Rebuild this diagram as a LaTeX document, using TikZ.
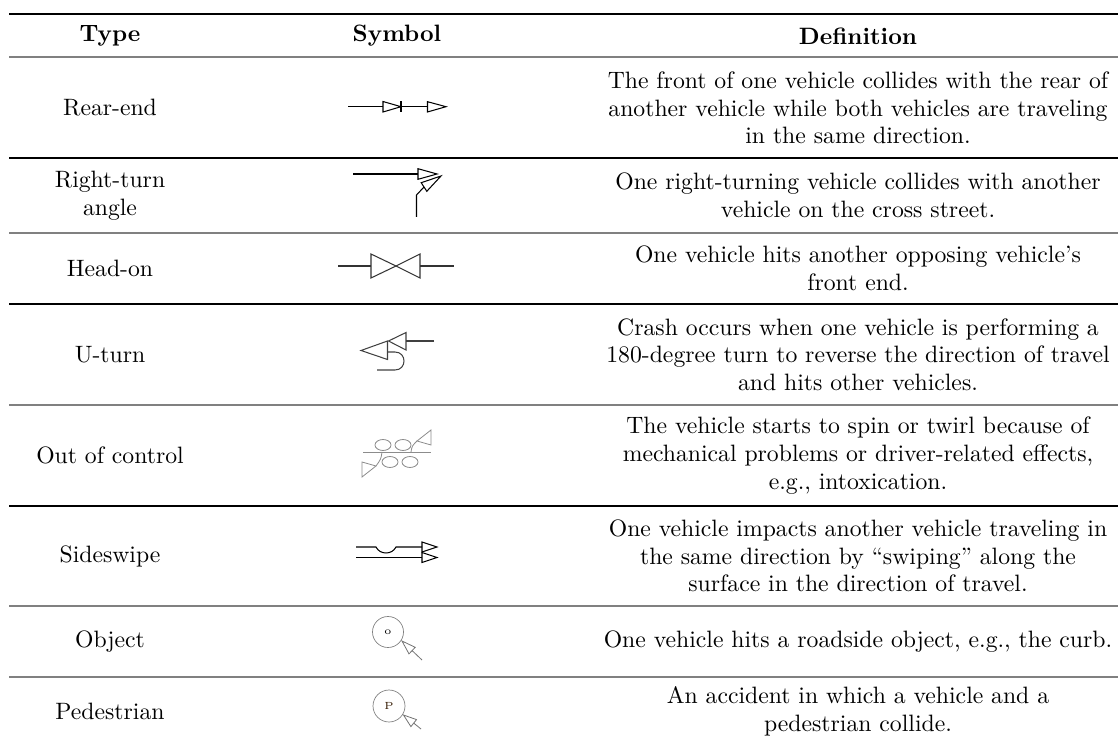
\documentclass[tikz,border=0pt]{standalone}
\usetikzlibrary{
    arrows.meta     % For arrow styles
}
\tikzset{
    % Style for the table cells
    cell/.style={
        align=center,
        inner sep=0pt,
        font=\fontsize{10.3}{12}\selectfont
    },
    % Style for the column titles
    head/.style={
        cell,
        font=\fontsize{10.3}{12}\selectfont\bfseries
    },
    % Style for the table rules
    rule/.style={
        line width=0.45pt
    },
    % Style for the crash symbols
    sym/.style={
        line width=0.45pt,
        line join=miter
    },
    % Style for the tiny letters inside the circles
    tiny/.style={
        inner sep=0pt,
        font=\fontsize{4.5}{5}\selectfont
    }
}

\begin{document}
\begin{tikzpicture}[x=0.4348pt, y=-0.4348pt]
    \useasboundingbox (0,0) rectangle (1118,744);

    % --- Rules of the table ---
    \draw[rule, line width=0.9pt] (9,14) -- (1118,14);
    \foreach \y/\c in {57/gray, 158/black, 233/gray, 304/black,
                       405/gray, 506/black, 606/gray, 677/gray}
        \draw[rule, draw=\c] (9,\y) -- (1118,\y);

    % --- Column titles ---
    \node (hType)   [head] at (110,36)  {Type};
    \node (hSymbol) [head] at (397,36)  {Symbol};
    \node (hDef)    [head] at (858,36)  {Definition};

    % --- Type column ---
    \node (t1) [cell] at (110,108)   {Rear-end};
    \node (t2) [cell] at (110,195.5) {Right-turn\\angle};
    \node (t3) [cell] at (110,268.5) {Head-on};
    \node (t4) [cell] at (110,354.5) {U-turn};
    \node (t5) [cell] at (110,455.5) {Out of control};
    \node (t6) [cell] at (110,556)   {Sideswipe};
    \node (t7) [cell] at (110,641.5) {Object};
    \node (t8) [cell] at (110,711.5) {Pedestrian};

    % --- Definition column ---
    \node (d1) [cell] at (hDef |- t1) {The front of one vehicle collides with the rear of\\another vehicle while both vehicles are traveling\\in the same direction.};
    \node (d2) [cell] at (hDef |- t2) {One right-turning vehicle collides with another\\vehicle on the cross street.};
    \node (d3) [cell] at (hDef |- t3) {One vehicle hits another opposing vehicle’s\\front end.};
    \node (d4) [cell] at (hDef |- t4) {Crash occurs when one vehicle is performing a\\180-degree turn to reverse the direction of travel\\and hits other vehicles.};
    \node (d5) [cell] at (hDef |- t5) {The vehicle starts to spin or twirl because of\\mechanical problems or driver-related effects,\\e.g., intoxication.};
    \node (d6) [cell] at (hDef |- t6) {One vehicle impacts another vehicle traveling in\\the same direction by “swiping” along the\\surface in the direction of travel.};
    \node (d7) [cell] at (hDef |- t7) {One vehicle hits a roadside object, e.g., the curb.};
    \node (d8) [cell] at (hDef |- t8) {An accident in which a vehicle and a\\pedestrian collide.};

    % --- Symbol: rear-end ---
    \draw[sym] (348,106.7) -- (383,106.7);
    \draw[sym] (383,101.5) -- (401,106.7) -- (383,112) -- cycle;
    \draw[sym] (401,101.5) -- (401,112.5);
    \draw[sym] (401,106.7) -- (427.5,106.7);
    \draw[sym] (427.5,101.7) -- (446,106.7) -- (427.5,112) -- cycle;

    % --- Symbol: right-turn angle ---
    \draw[sym] (353,174) -- (418,174);
    \draw[sym] (418,168.7) -- (437,174) -- (418,179.3) -- cycle;
    \draw[sym] (416.5,217) -- (416.5,195) -- (424,187);
    \draw[sym] (426.8,191.3) -- (441,176) -- (421.2,182.7) -- cycle;

    % --- Symbol: head-on ---
    \draw[sym, draw=black!80] (338,266) -- (371,266);
    \draw[sym, draw=black!80] (371,254) -- (396,266) -- (371,278) -- cycle;
    \draw[sym, draw=black!80] (420,254) -- (396,266) -- (420,278) -- cycle;
    \draw[sym, draw=black!80] (420,266) -- (454,266);

    % --- Symbol: U-turn ---
    \draw[sym, draw=black!75] (434,341) -- (406,341);
    \draw[sym, draw=black!75] (406,332.5) -- (388.5,341) -- (406,350) -- cycle;
    \draw[sym, draw=black!75] (387.5,341) -- (361,350.5) -- (387.5,359.5) -- cycle;
    \draw[sym, draw=black!75] (387.5,352) -- (395,352)
        .. controls (407,352) and (407,370) .. (395,370) -- (377,370);

    % --- Symbol: out of control ---
    \begin{scope}[sym, draw=black!45, line width=0.35pt]
        \draw (363,452) -- (431,452);
        \draw (383,445) ellipse [x radius=8, y radius=5.5];
        \draw (403,445) ellipse [x radius=8, y radius=5.5];
        \draw (390,462) ellipse [x radius=8, y radius=5.5];
        \draw (410,462) ellipse [x radius=8, y radius=5.5];
        \draw (411,452) .. controls (412,446) .. (417,441);
        \draw (417,441) -- (431,430) -- (431,445) -- cycle;
        \draw (382,452) .. controls (381,459) .. (376,466);
        \draw (376,466) -- (362,477) -- (362,462) -- cycle;
    \end{scope}

    % --- Symbol: sideswipe ---
    \draw[sym] (356,547) -- (376,547)
        .. controls (380,555) and (392,555) .. (396,547) -- (422,547);
    \draw[sym] (422,542) -- (437,547) -- (422,552) -- cycle;
    \draw[sym] (356,557.5) -- (422,557.5);
    \draw[sym] (422,552.5) -- (437,557.5) -- (422,562.5) -- cycle;

    % --- Symbol: object ---
    \draw[sym, draw=black!50, line width=0.3pt] (388,632) circle [radius=15.5];
    \node (obj) [tiny] at (388,632) {o};
    \draw[sym, draw=black!55, line width=0.35pt] (409,653.9) -- (402,641) -- (415.2,647.3) -- cycle;
    \draw[sym, draw=black!55, line width=0.35pt] (412.1,650.6) -- (422,660);

    % --- Symbol: pedestrian ---
    \draw[sym, draw=black!50, line width=0.3pt] (389,706) circle [radius=16];
    \node (ped) [tiny, text=black!80!orange] at (389,706) {P};
    \draw[sym, draw=black!55, line width=0.35pt] (410.9,726.6) -- (403.5,715) -- (416.5,719.6) -- cycle;
    \draw[sym, draw=black!55, line width=0.35pt] (413.7,723.1) -- (421,729);

\end{tikzpicture}
\end{document}
